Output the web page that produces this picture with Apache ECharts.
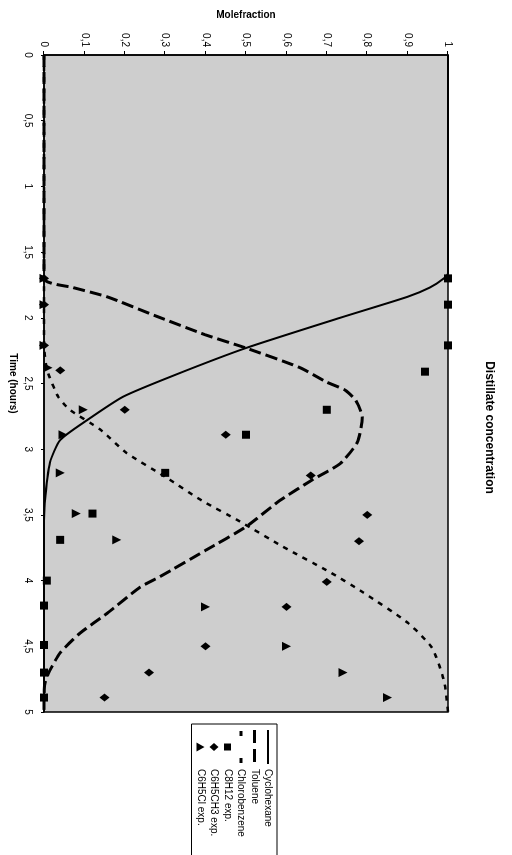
<!DOCTYPE html>
<html>
<head>
<meta charset="utf-8">
<script src="https://cdn.jsdelivr.net/npm/echarts@6/dist/echarts.min.js"></script>
<style>
html,body{margin:0;padding:0;background:#fff;overflow:hidden;width:512px;height:855px;}
#wrap{position:absolute;left:0;top:0;width:855px;height:512px;transform-origin:0 0;transform:translateX(512px) rotate(90deg);}
#c{width:855px;height:512px;}
</style>
</head>
<body>
<div id="wrap"><div id="c"></div></div>
<script>
// Time (hours) and mole fraction pairs
const cyclohexane = [[0,1],[1.66,1],[1.70,0.99],[1.77,0.955],[1.84,0.90],[2.00,0.733],[2.23,0.50],[2.44,0.32],[2.60,0.196],[2.78,0.106],[2.93,0.04],[3.10,0.015],[3.41,0.002],[3.6,0],[5,0]];
const toluene = [[0,0],[1.70,0],[1.77,0.072],[1.84,0.156],[1.99,0.28],[2.13,0.40],[2.23,0.50],[2.38,0.634],[2.49,0.70],[2.55,0.745],[2.63,0.772],[2.76,0.788],[2.95,0.775],[3.11,0.733],[3.23,0.666],[3.39,0.584],[3.59,0.50],[3.77,0.40],[3.97,0.287],[4.05,0.238],[4.25,0.156],[4.40,0.089],[4.55,0.04],[4.71,0.01],[4.79,0.002],[4.9,0],[5,0]];
const chlorobenzene = [[0,0],[2.2,0],[2.4,0.008],[2.6,0.035],[2.70,0.064],[2.85,0.139],[3.03,0.205],[3.21,0.30],[3.39,0.39],[3.55,0.485],[3.74,0.59],[3.94,0.71],[4.09,0.79],[4.32,0.90],[4.51,0.96],[4.76,0.99],[5,1.0]];
const c8h12Exp = [[1.70,1],[1.90,1],[2.21,1],[2.41,0.943],[2.70,0.70],[2.89,0.50],[3.18,0.30],[3.49,0.12],[3.69,0.04],[4.0,0.007],[4.19,0],[4.49,0],[4.70,0],[4.89,0]];
const c6h5ch3Exp = [[1.70,0],[1.90,0],[2.21,0],[2.40,0.04],[2.70,0.20],[2.89,0.45],[3.20,0.66],[3.50,0.80],[3.70,0.78],[4.01,0.70],[4.20,0.60],[4.50,0.40],[4.70,0.26],[4.89,0.15]];
const c6h5clExp = [[1.70,0],[1.90,0],[2.21,0],[2.38,0.01],[2.70,0.097],[2.89,0.047],[3.18,0.04],[3.49,0.08],[3.69,0.18],[4.20,0.40],[4.50,0.60],[4.70,0.74],[4.89,0.85]];
const seriesNames = ['Cyclohexane','Toluene','Chlorobenzene','C8H12 exp.','C6H5CH3 exp.','C6H5Cl exp.'];
const titleText = 'Distillate concentration';
const xName = 'Time (hours)';
const yName = 'Molefraction';

const FONT = '"Liberation Sans", Arial, sans-serif';
const fmt = v => String(+v.toFixed(2)).replace('.', ',');

// legend icons (box 34x9 fixed via leading moveTo points)
const B = 'path://M0,0M34,9';
const icons = [
  B + 'M0,3.5L34,3.5L34,5.5L0,5.5Z',
  B + 'M0,3L13,3L13,6L0,6ZM19,3L32,3L32,6L19,6Z',
  B + 'M1,3L6,3L6,6L1,6ZM28,3L33,3L33,6L28,6Z',
  B + 'M13.5,1L20.5,1L20.5,8L13.5,8Z',
  B + 'M17,0L21,4.5L17,9L13,4.5Z',
  B + 'M17,0.5L21.5,8.5L12.5,8.5Z'
];

const chart = echarts.init(document.getElementById('c'), null, {renderer:'canvas'});
const lineBase = {type:'line', symbol:'none', smooth:0.2, clip:false, z:3};
const scatterBase = {type:'scatter', clip:false, z:4, itemStyle:{color:'#000', opacity:1}};
chart.setOption({
  animation:false,
  backgroundColor:'#fff',
  textStyle:{fontFamily:FONT, color:'#000'},
  title:{text:titleText, left:'center', top:12, textStyle:{fontFamily:FONT, fontSize:12, fontWeight:'bold', color:'#000'}},
  legend:{
    orient:'vertical', left:724, top:235, itemWidth:34, itemHeight:9, itemGap:3.5,
    padding:[4,40,4,6], borderColor:'#000', borderWidth:1, backgroundColor:'#fff', borderRadius:0,
    textStyle:{fontFamily:FONT, fontSize:10, color:'#000'},
    itemStyle:{color:'#000', borderWidth:0},
    data:seriesNames.map((n,i)=>({name:n, icon:icons[i], itemStyle:{color:'#000', borderWidth:0}}))
  },
  grid:{left:55, right:143, top:64, bottom:44, show:true, backgroundColor:'#cecece', borderColor:'#000', borderWidth:1.5},
  xAxis:{
    type:'value', min:0, max:5, interval:0.5,
    name:xName, nameLocation:'middle', nameGap:26,
    nameTextStyle:{fontFamily:FONT, fontSize:10, fontWeight:'bold', color:'#000'},
    axisLine:{show:true, lineStyle:{color:'#000', width:1.5}},
    axisTick:{show:true, inside:false, length:3, lineStyle:{color:'#000'}},
    axisLabel:{formatter:fmt, margin:11, fontSize:10, color:'#000', fontFamily:FONT},
    splitLine:{show:false}
  },
  yAxis:{
    type:'value', min:0, max:1, interval:0.1,
    name:yName, nameLocation:'middle', nameGap:35,
    nameTextStyle:{fontFamily:FONT, fontSize:10, fontWeight:'bold', color:'#000'},
    axisLine:{show:true, lineStyle:{color:'#000', width:1.5}},
    axisTick:{show:true, inside:false, length:4, lineStyle:{color:'#000'}},
    axisLabel:{formatter:fmt, margin:8, fontSize:10, color:'#000', fontFamily:FONT},
    splitLine:{show:false}
  },
  series:[
    Object.assign({}, lineBase, {name:seriesNames[0], data:cyclohexane, lineStyle:{color:'#000', width:2, type:'solid'}, itemStyle:{color:'#000'}}),
    Object.assign({}, lineBase, {name:seriesNames[1], data:toluene, lineStyle:{color:'#000', width:3, type:[12,5]}, itemStyle:{color:'#000'}}),
    Object.assign({}, lineBase, {name:seriesNames[2], data:chlorobenzene, lineStyle:{color:'#000', width:2.5, type:[5,6]}, itemStyle:{color:'#000'}}),
    Object.assign({}, scatterBase, {name:seriesNames[3], data:c8h12Exp, symbol:'rect', symbolSize:8}),
    Object.assign({}, scatterBase, {name:seriesNames[4], data:c6h5ch3Exp, symbol:'diamond', symbolSize:[8,10]}),
    Object.assign({}, scatterBase, {name:seriesNames[5], data:c6h5clExp, symbol:'triangle', symbolSize:9})
  ]
});
</script>
</body>
</html>
